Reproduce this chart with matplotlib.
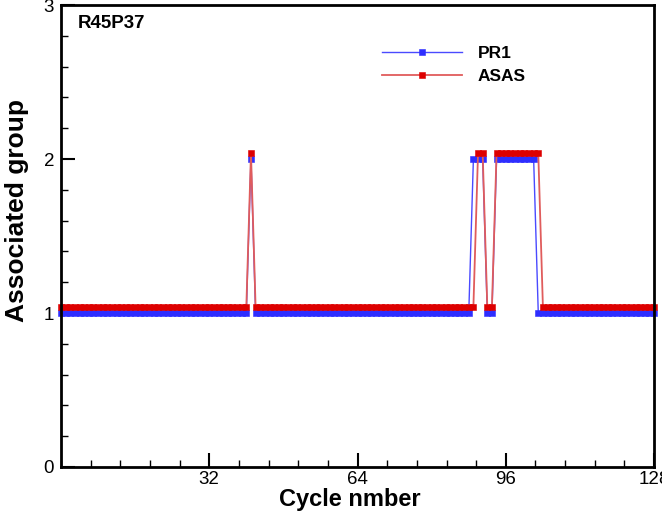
import numpy as np
import matplotlib
matplotlib.use("Agg")
import matplotlib.pyplot as plt
from matplotlib.ticker import MultipleLocator

plt.rcParams['font.family'] = ['Liberation Sans', 'DejaVu Sans']

# cycles 0..128, value 1 everywhere except the listed cycles (value 2)
cycles = np.arange(0, 129)
pr1_high = [41, 89, 90, 91, 94, 95, 96, 97, 98, 99, 100, 101, 102]
asas_high = [41, 90, 91, 94, 95, 96, 97, 98, 99, 100, 101, 102, 103]

pr1 = np.ones(len(cycles))
pr1[np.isin(cycles, pr1_high)] = 2
asas = np.ones(len(cycles))
asas[np.isin(cycles, asas_high)] = 2

# ASAS drawn slightly above PR1 so both stay visible
shift = 0.04

fig = plt.figure(figsize=(6.62, 5.12), dpi=100)
ax = fig.add_axes([0.0921, 0.088, 0.896, 0.902])

ax.plot(cycles, pr1, color='#4a4aff', lw=1.0, marker='s', ms=4.9, mew=0.4,
        mfc='#2e2eff', mec='#2e2eff', label='PR1', clip_on=False)
ax.plot(cycles, asas + shift, color='#e05c5c', lw=1.3, marker='s', ms=4.9, mew=0.4,
        mfc='#dd0000', mec='#dd0000', label='ASAS', clip_on=False)

ax.set_xlim(0, 128)
ax.set_ylim(0, 3)
ax.xaxis.set_minor_locator(MultipleLocator(6.4))
ax.yaxis.set_major_locator(MultipleLocator(1))
ax.yaxis.set_minor_locator(MultipleLocator(0.2))
ax.set_xticks([32, 64, 96, 128])
ax.tick_params(which='both', direction='in', top=False, right=False,
               labelsize=13.5, width=1.5)
ax.tick_params(axis='x', pad=3)
ax.tick_params(axis='y', pad=5)
ax.tick_params(which='major', length=10)
ax.tick_params(which='minor', length=5, width=1)
for s in ax.spines.values():
    s.set_linewidth(2)

ax.set_xlabel('Cycle nmber', fontsize=17, fontweight='bold')
ax.xaxis.set_label_coords(0.487, -0.046)
ax.set_ylabel('Associated group', fontsize=19, fontweight='bold')
ax.yaxis.set_label_coords(-0.054, 0.555)

ax.text(0.028, 0.978, 'R45P37', transform=ax.transAxes, fontsize=13.5,
        fontweight='bold', va='top', ha='left')

leg = ax.legend(loc='upper left', bbox_to_anchor=(0.515, 0.945), frameon=False,
                handlelength=4.6, handletextpad=0.9, labelspacing=0.45,
                prop={'weight': 'bold', 'size': 12.5})

fig.savefig('out.png', dpi=100)
